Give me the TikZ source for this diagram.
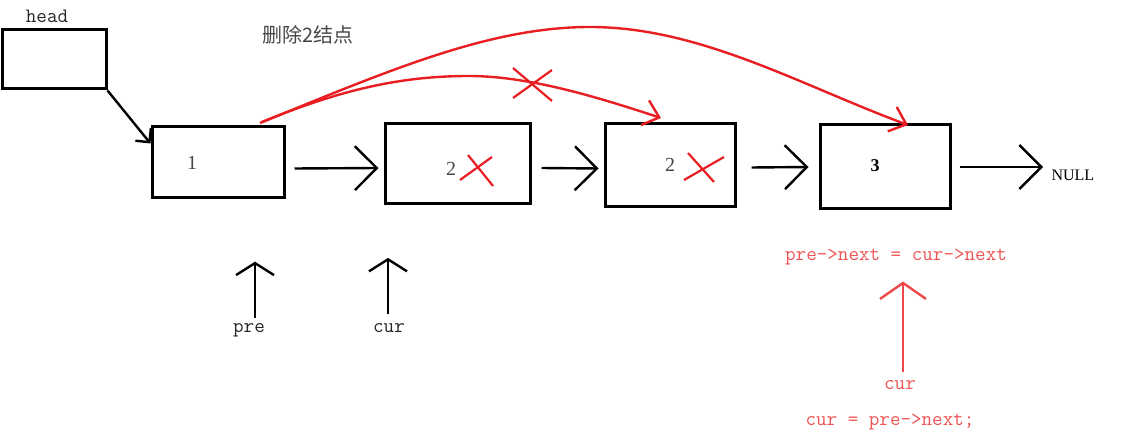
\documentclass[tikz,border=0pt]{standalone}
\usepackage{fontspec}
\setmainfont{Liberation Serif}
\newfontfamily\cjk{Noto Sans CJK SC}
\usetikzlibrary{arrows.meta,positioning}
\definecolor{InkRed}{RGB}{232,30,34}
\definecolor{CodeRed}{RGB}{238,84,84}
\definecolor{NoteGray}{RGB}{70,70,70}
\begin{document}
\begin{tikzpicture}[x=1pt, y=-1pt, font=\ttfamily\fontsize{20.5}{22}\selectfont]
\tikzset{cell/.style={draw=black, line width=3pt, inner sep=0pt}, link/.style={line width=2.4pt, -{Straight Barb[length=22pt,width=44pt,line width=2.4pt]}}, ptr/.style={line width=2.4pt, -{Straight Barb[length=12pt,width=38pt,line width=2.4pt]}}, jump/.style={InkRed, line width=2.4pt, -{Straight Barb[length=15pt,width=26pt,line width=2.4pt]}}, cut/.style={InkRed, line width=2.2pt}, code/.style={CodeRed, font=\ttfamily\fontsize{20.5}{22}\selectfont}, val/.style={font=\fontsize{20}{22}\selectfont, text=NoteGray}}
\useasboundingbox (0,0) rectangle (1121,435);
\node[text=black!85] (headlbl) at (47,16) {head};
\node[cell, minimum width=104pt, minimum height=59pt] (head) at (54,59.5) {};
\node[cell, minimum width=132pt, minimum height=71pt] (n1) at (218,162.5) {};
\node[cell, minimum width=145pt, minimum height=80pt] (n2) at (457.5,164) {};
\node[cell, minimum width=130pt, minimum height=83pt] (n3) at (670,165.5) {};
\node[cell, minimum width=130pt, minimum height=84pt] (n4) at (885,167) {};
\node[val] (v1) at (192,163) {1};
\node[val] (v2) at (451,169) {2};
\node[val] (v3) at (670,165) {2};
\node[val, text=black, font=\bfseries\fontsize{18}{20}\selectfont] (v4) at (875,166) {3};
\node[font=\fontsize{16}{18}\selectfont, anchor=west] (null) at (1048,175) {NULL};
\node[font=\cjk\fontsize{20}{22}\selectfont, text=NoteGray] (title) at (308,35) {删除2结点};
% pointers under the list
\node[text=black!85] (pre) at (249,330) {pre};
\node[text=black!85] (cur) at (389,328) {cur};
\node[code] (assign1) at (896,257) {pre->next = cur->next};
\node[code] (cur2) at (900,385) {cur};
\node[code] (assign2) at (890,422) {cur = pre->next;};
\draw[line width=2.4pt, -{Straight Barb[length=10pt,width=20pt,line width=2.4pt]}] (head.south east) -- ([yshift=-18pt]n1.north west);
\draw[link] ([xshift=9pt,yshift=-6pt]n1.east) -- ([xshift=-5pt,yshift=-4pt]n2.west); \draw[link] ([xshift=10pt,yshift=-4pt]n2.east) -- ([xshift=-5pt,yshift=-3pt]n3.west); \draw[link] ([xshift=15pt,yshift=-2pt]n3.east) -- ([xshift=-10pt]n4.west); \draw[link] ([xshift=8pt]n4.east) -- ([xshift=-5pt]n4.east -| null.west);
\draw[ptr] ([xshift=6pt,yshift=2pt]pre.north) -- ++(0,-56); \draw[ptr] ([xshift=-1pt,yshift=6pt]cur.north) -- ++(0,-56);
\draw[jump, CodeRed!80!InkRed, -{Straight Barb[length=16pt,width=46pt,line width=2.4pt]}] ([xshift=3pt,yshift=5pt]cur2.north) -- ([xshift=3pt,yshift=-13pt]cur2.north |- assign1.south);
% red re-links
\draw[jump] (262,122) .. controls (340,90) and (400,76) .. (469,76) .. controls (530,76) and (600,98) .. (661,118);
\draw[jump] (260,123) .. controls (390,70) and (490,27) .. (590,27) .. controls (700,27) and (800,85) .. (908,125);
% crosses
\draw[cut] (513,68) -- (552,101) (552,70) -- (513,98);
\draw[cut] (468,155) -- (493,186) (492,157) -- (460,180);
\draw[cut] (688,153) -- (714,182) (724,157) -- (684,180);
\end{tikzpicture}
\end{document}
